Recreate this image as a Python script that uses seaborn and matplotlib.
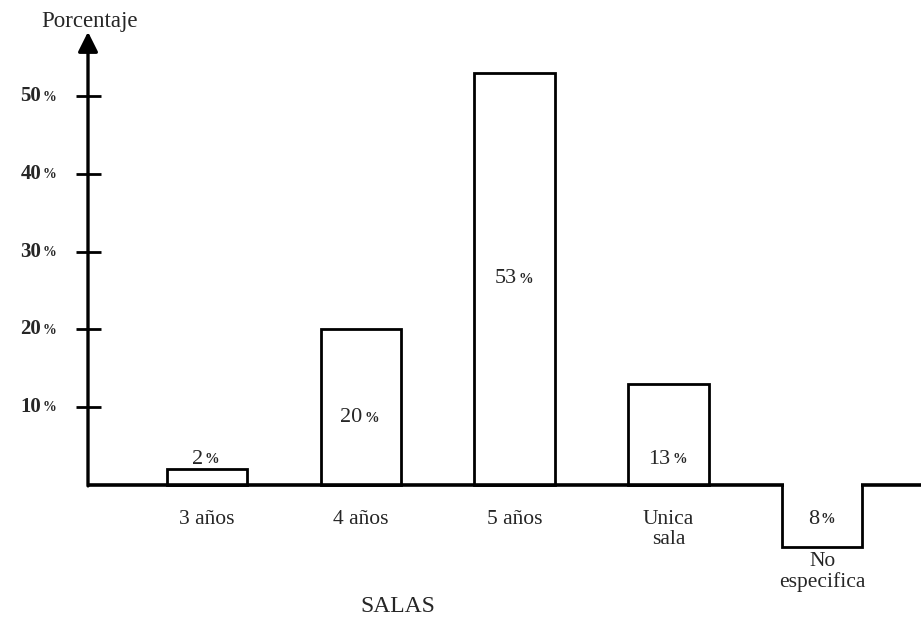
import matplotlib
matplotlib.use("Agg")
import matplotlib.pyplot as plt
import matplotlib.transforms as mtransforms
import seaborn as sns
import pandas as pd

# datos
categorias = ["3 años", "4 años", "5 años", "Unica\nsala", "No\nespecifica"]
porcentajes = [2, 20, 53, 13, 8]
direccion = [1, 1, 1, 1, -1]          # "No especifica" se dibuja hacia abajo
ticks_y = [10, 20, 30, 40, 50]

sns.set_style("white")
plt.rcParams["font.family"] = ["Liberation Serif", "DejaVu Serif"]

df = pd.DataFrame({
    "sala": categorias,
    "altura": [p * d for p, d in zip(porcentajes, direccion)],
})

fig = plt.figure(figsize=(9.21, 6.37), dpi=100)
ax = fig.add_axes([88 / 921, 0, 1 - 88 / 921, 1])

sns.barplot(data=df, x="sala", y="altura", ax=ax, color="white",
            saturation=1, edgecolor="black", linewidth=2.0, width=0.52,
            zorder=2)

ax.set_xlim(-0.77, 4.64)
ax.set_ylim(-19.6, 62.4)

# línea base
ax.axhline(0, color="black", lw=2.6, zorder=3)
# la barra negativa queda abierta por arriba
p = ax.patches[-1]
ax.plot([p.get_x() + 0.012, p.get_x() + p.get_width() - 0.012], [0, 0],
        color="white", lw=3.2, zorder=4, solid_capstyle="butt")

# eje vertical con flecha
for s in ax.spines.values():
    s.set_visible(False)
ax.annotate("", xy=(-0.77, 58.3), xytext=(-0.77, -0.15),
            arrowprops=dict(arrowstyle="-|>", lw=2.4, color="black",
                            mutation_scale=30, shrinkA=0, shrinkB=0),
            annotation_clip=False, zorder=5)

ax.set_yticks(ticks_y)
ax.set_yticklabels([])
ax.tick_params(axis="y", direction="inout", length=18, width=2.0,
               left=True, colors="black")
ax.set_xticks([])
ax.set_xlabel("")
ax.set_ylabel("")


def porcentaje(x, y, valor, size, transform, ha="center", weight="normal"):
    """Número con el signo % pequeño, como en el original."""
    t = ax.text(x, y, str(valor), ha=ha, va="center", fontsize=size,
                fontweight=weight, transform=transform, zorder=6)
    ax.annotate("%", xy=(1.0, 0.14), xycoords=t, xytext=(1.5, 0),
                textcoords="offset points", ha="left", va="bottom",
                fontsize=size * 0.66, fontweight="bold", zorder=6)
    return t


# etiquetas del eje y
tr_y = mtransforms.blended_transform_factory(fig.transFigure, ax.transData)
for t in ticks_y:
    porcentaje(41 / 921, t, t, 15, tr_y, ha="right", weight="bold")

# etiquetas de las barras
frac = [None, 0.43, 0.5, 0.25, 0.56]
for i, (v, d) in enumerate(zip(porcentajes, direccion)):
    y = v + 1.3 if frac[i] is None else v * d * frac[i]
    porcentaje(i - 0.06, y, v, 16, ax.transData)

# nombres de las salas
for i, c in enumerate(categorias):
    y0 = -3.3 if direccion[i] > 0 else -8.7
    ax.text(i, y0, c, ha="center", va="top", fontsize=15.5, linespacing=1.05)

fig.text(90 / 921, 1 - 22 / 637, "Porcentaje", ha="center", va="center",
         fontsize=16.5)
fig.text(398 / 921, 1 - 606 / 637, "SALAS", ha="center", va="center",
         fontsize=17)

fig.savefig("out.png", dpi=100, facecolor="white")
